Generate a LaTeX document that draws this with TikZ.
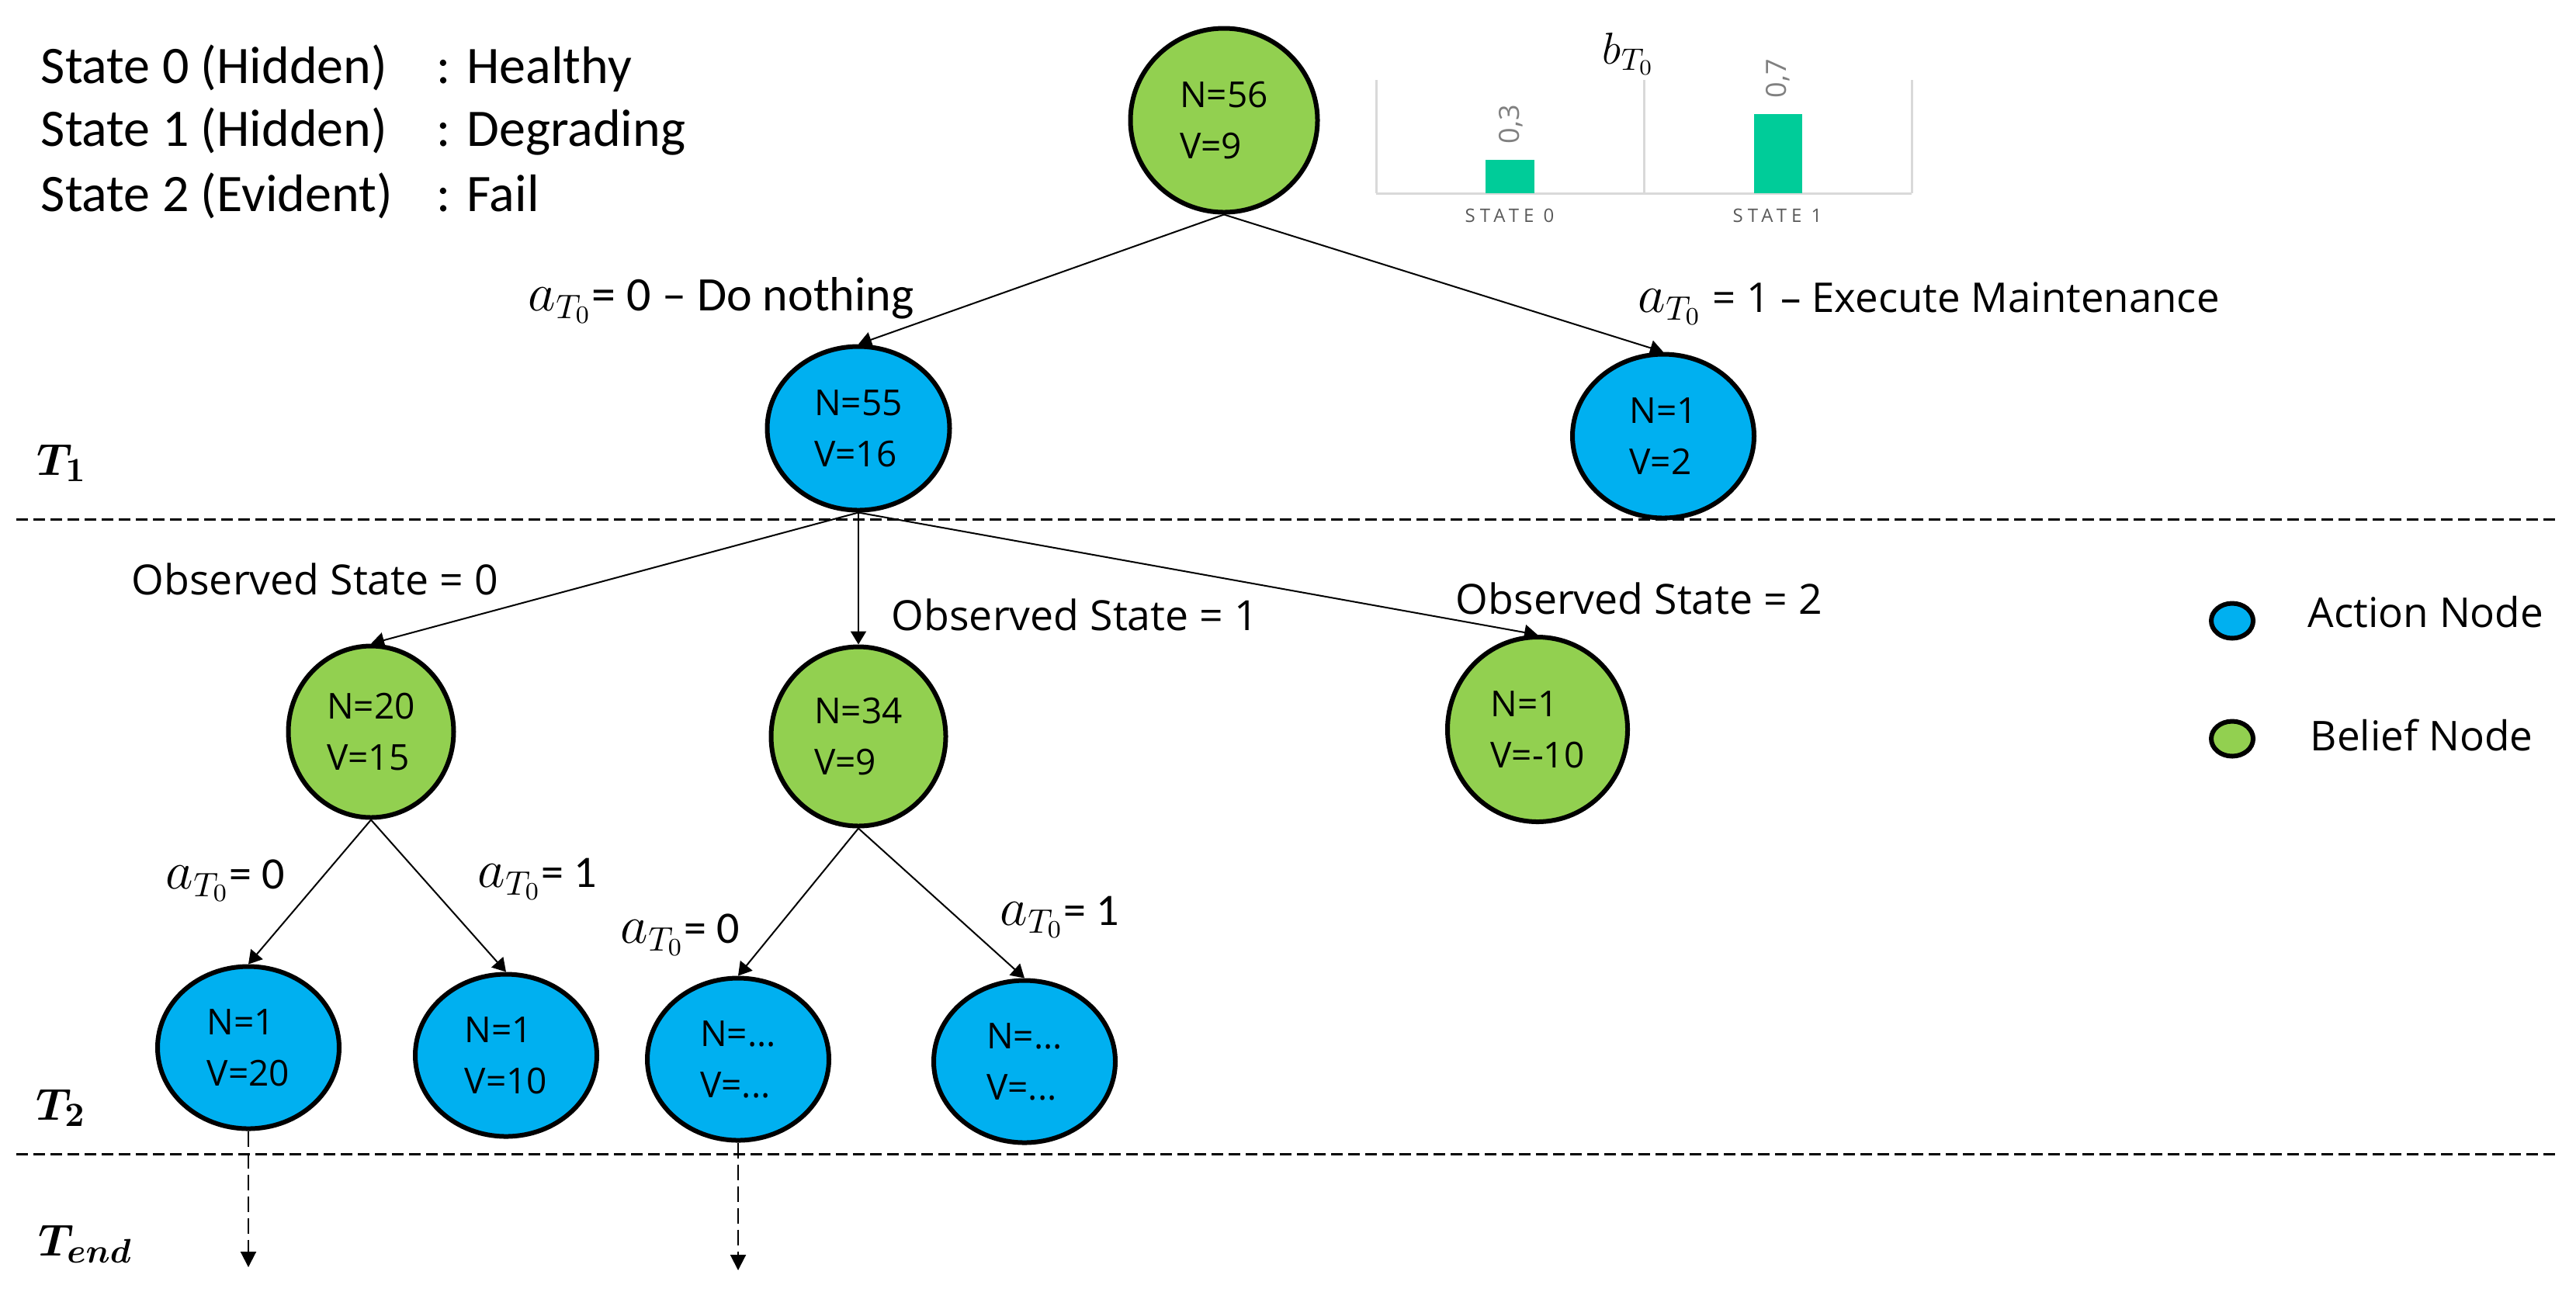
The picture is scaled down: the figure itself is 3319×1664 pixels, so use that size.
\documentclass[tikz,border=0pt]{standalone}
\usepackage{fontspec}
\setmainfont{Open Sans}
\newfontfamily\calfont{Carlito}
\newfontfamily\chartfont[LetterSpace=25]{Open Sans}
\usetikzlibrary{shapes.geometric,arrows.meta}
\definecolor{beliefgreen}{HTML}{92D050}
\definecolor{actionblue}{HTML}{00B0F0}
\definecolor{barcol}{HTML}{00CC99}
\definecolor{axisgray}{HTML}{D9D9D9}
\definecolor{labgray}{HTML}{808080}
\definecolor{catgray}{HTML}{595959}
\newcommand\labmath{\fontsize{16}{19}\selectfont}
\begin{document}
\begin{tikzpicture}[x=0.25pt,y=-0.25pt,
  treenode/.style={ellipse,draw=black,line width=1.5pt,inner sep=0pt,align=left,
     font=\fontsize{11.5}{16.5}\selectfont},
  belief/.style={treenode,fill=beliefgreen},
  action/.style={treenode,fill=actionblue},
  rootsize/.style={minimum width=60.25pt,minimum height=59.25pt},
  asize/.style={minimum width=58.75pt,minimum height=52.75pt},
  csize/.style={minimum width=58.5pt,minimum height=52.25pt},
  edge/.style={line width=0.5pt,-{Triangle[length=4.25pt,width=5pt]}},
  dashedge/.style={line width=0.5pt,dash pattern=on 5pt off 2pt,-{Triangle[length=5pt,width=5pt]}},
  sepline/.style={line width=0.75pt,dash pattern=on 3.75pt off 1.75pt},
  statetext/.style={anchor=base west,inner sep=0pt,font=\calfont\fontsize{17}{20}\selectfont},
  obslabel/.style={anchor=base west,inner sep=0pt,font=\fontsize{13.4}{16}\selectfont},
  actlabel/.style={anchor=base west,inner sep=0pt,font=\calfont\fontsize{14.5}{17}\selectfont},
  legtext/.style={anchor=base west,inner sep=0pt,font=\fontsize{13.25}{16}\selectfont},
  legnode/.style={ellipse,draw=black,line width=1.5pt,inner sep=0pt,minimum width=13.5pt,minimum height=11.25pt},
  tlabel/.style={anchor=base west,inner sep=0pt,font=\fontsize{15}{18}\selectfont\boldmath}
]
\useasboundingbox (0,0) rectangle (3319,1664);

% state description
\node[statetext] (s0) at (52,107) {State 0 (Hidden)};
\node[statetext] (s1) at (52,188) {State 1 (Hidden)};
\node[statetext] (s2) at (52,272) {State 2 (Evident)};
\node[statetext] (d0) at (562,107) {: Healthy};
\node[statetext] (d1) at (562,188) {: Degrading};
\node[statetext] (d2) at (562,272) {: Fail};

% belief bar chart
\draw[axisgray,line width=0.75pt] (1773,249) -- (2463,249);
\draw[axisgray,line width=0.75pt] (1773,103) -- (1773,249);
\draw[axisgray,line width=0.75pt] (2118,103) -- (2118,249);
\draw[axisgray,line width=0.75pt] (2463,103) -- (2463,249);
\fill[barcol] (1914,206) rectangle (1977,249);
\fill[barcol] (2260,147) rectangle (2322,249);
\node[rotate=90,text=labgray,inner sep=0pt,font=\fontsize{9}{10}\selectfont] (v0) at (1947,160) {0,3};
\node[rotate=90,text=labgray,inner sep=0pt,font=\fontsize{9}{10}\selectfont] (v1) at (2291,101) {0,7};
\node[text=catgray,inner sep=0pt,font=\chartfont\fontsize{6}{7}\selectfont] (c0) at (1945,278) {STATE 0};
\node[text=catgray,inner sep=0pt,font=\chartfont\fontsize{6}{7}\selectfont] (c1) at (2290,278) {STATE 1};
\node[anchor=base west,inner sep=0pt,font=\fontsize{14.5}{17}\selectfont] (bt) at (2064,82) {$b_{T_0}$};

% separators
\draw[sepline] (21,669) -- (3298,669);
\draw[sepline] (21,1487) -- (3298,1487);

% time labels
\node[tlabel] (t1) at (47,612) {$T_1$};
\node[tlabel] (t2) at (46,1443) {$T_2$};
\node[tlabel] (te) at (49,1618) {$T_{end}$};

% tree nodes
\node[belief,rootsize] (root) at (1577,155) {N=56\\V=9};
\node[action,asize] (A1) at (1106,552) {N=55\\V=16};
\node[action,minimum width=58.5pt,minimum height=52.75pt] (A2) at (2143,562) {N=1\\V=2};
\node[belief,minimum width=53.25pt,minimum height=55.25pt] (B1) at (478,943) {N=20\\V=15};
\node[belief,minimum width=56.25pt,minimum height=57.75pt] (B2) at (1106,949) {N=34\\V=9};
\node[belief,minimum width=58pt,minimum height=59.5pt] (B3) at (1981,940) {N=1\\V=-10};
\node[action,csize] (C1) at (320,1350) {N=1\\V=20};
\node[action,csize] (C2) at (652,1360) {N=1\\V=10};
\node[action,csize] (C3) at (951,1365) {N=...\\V=...};
\node[action,csize] (C4) at (1320,1368) {N=...\\V=...};

% connectors
\draw[edge] (root.south) -- (A1.north);
\draw[edge] (root.south) -- (A2.north);
\draw[edge] (A1.south) -- (B1.north);
\draw[edge] (A1.south) -- (B2.north);
\draw[edge] (A1.south) -- (B3.north);
\draw[edge] (B1.south) -- (C1.north);
\draw[edge] (B1.south) -- (C2.north);
\draw[edge] (B2.south) -- (C3.north);
\draw[edge] (B2.south) -- (C4.north);
\coordinate (e1) at (320,1633);
\coordinate (e3) at (951,1637);
\draw[dashedge] (C1.south) -- (e1);
\draw[dashedge] (C3.south) -- (e3);

% edge labels
\node[actlabel,font=\calfont\fontsize{15.5}{18}\selectfont] (la0) at (680,400) {{\labmath$a_{T_0}$}= 0 – Do nothing};
\node[obslabel,font=\fontsize{13.2}{16}\selectfont] (la1) at (2110,402) {{\labmath$a_{T_0}$} = 1 – Execute Maintenance};
\node[obslabel] (o0) at (169,766) {Observed State = 0};
\node[obslabel] (o1) at (1148,812) {Observed State = 1};
\node[obslabel] (o2) at (1875,791) {Observed State = 2};
\node[actlabel] (l10) at (213,1145) {{\labmath$a_{T_0}$}= 0};
\node[actlabel] (l11) at (615,1143) {{\labmath$a_{T_0}$}= 1};
\node[actlabel] (l20) at (799,1215) {{\labmath$a_{T_0}$}= 0};
\node[actlabel] (l21) at (1288,1192) {{\labmath$a_{T_0}$}= 1};

% legend
\node[legnode,fill=actionblue] (lgA) at (2876,800) {};
\node[legnode,fill=beliefgreen] (lgB) at (2876,952) {};
\node[legtext] (lgAt) at (2973,808) {Action Node};
\node[legtext] (lgBt) at (2976,967) {Belief Node};
\end{tikzpicture}
\end{document}
